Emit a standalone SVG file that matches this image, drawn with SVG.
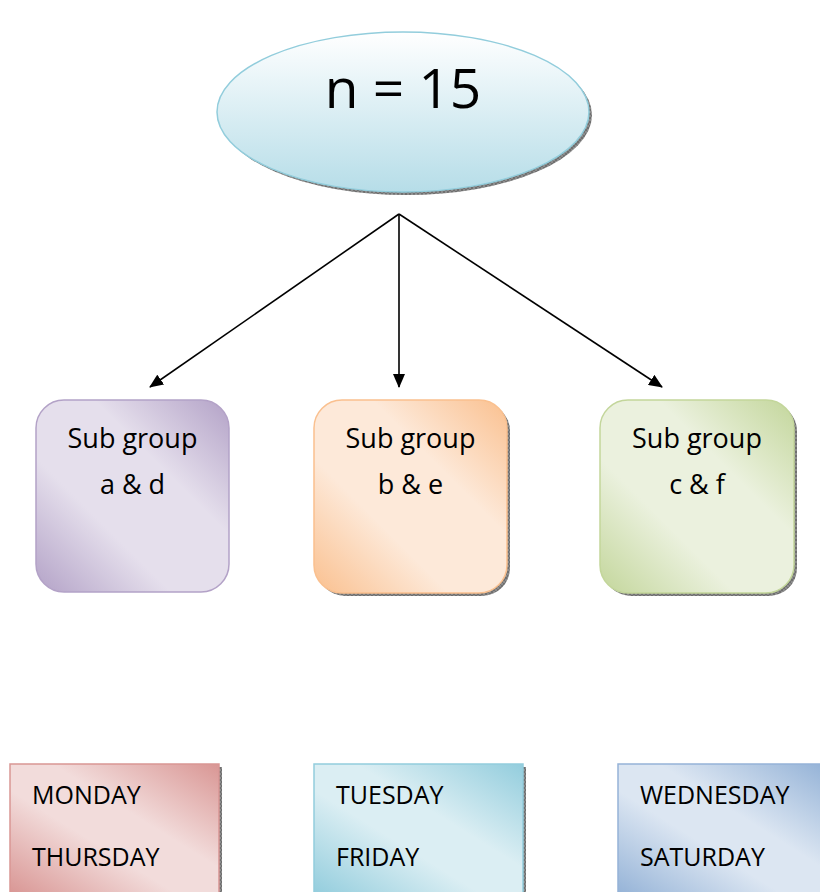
<svg xmlns="http://www.w3.org/2000/svg" width="820" height="892" viewBox="0 0 820 892">
<style>
  .t { font-family: "Open Sans", "Liberation Sans", sans-serif; fill: #000; }
  .sub { font-size: 27px; text-anchor: middle; }
  .day { font-size: 25px; }
  .conn { stroke: #000; stroke-width: 1.6; fill: none; marker-end: url(#arr); }
  .shadow { fill: url(#hatch); }
</style>
<defs>
  <marker id="arr" viewBox="0 0 14 12" refX="13" refY="6" markerWidth="14" markerHeight="12" markerUnits="userSpaceOnUse" orient="auto">
    <path d="M0,0 L14,6 L0,12 Z" fill="#000"/>
  </marker>
  <pattern id="hatch" width="4" height="4" patternUnits="userSpaceOnUse">
    <rect width="4" height="4" fill="#8c8c8c"/>
    <path d="M0,0 L4,4 M4,0 L0,4" stroke="#5a5a5a" stroke-width="0.6"/>
  </pattern>
  <linearGradient id="gEll" x1="0" y1="0" x2="0" y2="1">
    <stop offset="0" stop-color="#ffffff"/>
    <stop offset="1" stop-color="#b6dde8"/>
  </linearGradient>
  <linearGradient id="gPur" x1="0" y1="1" x2="1" y2="0">
    <stop offset="0" stop-color="#b3a2c7"/>
    <stop offset="0.35" stop-color="#e5dfec"/>
    <stop offset="0.65" stop-color="#e5dfec"/>
    <stop offset="1" stop-color="#b3a2c7"/>
  </linearGradient>
  <linearGradient id="gOra" x1="0" y1="1" x2="1" y2="0">
    <stop offset="0" stop-color="#fac08f"/>
    <stop offset="0.35" stop-color="#fde9d9"/>
    <stop offset="0.65" stop-color="#fde9d9"/>
    <stop offset="1" stop-color="#fac08f"/>
  </linearGradient>
  <linearGradient id="gGrn" x1="0" y1="1" x2="1" y2="0">
    <stop offset="0" stop-color="#c3d69b"/>
    <stop offset="0.35" stop-color="#ebf1de"/>
    <stop offset="0.65" stop-color="#ebf1de"/>
    <stop offset="1" stop-color="#c3d69b"/>
  </linearGradient>
  <linearGradient id="gPink" x1="0" y1="1" x2="1" y2="0">
    <stop offset="0" stop-color="#d99694"/>
    <stop offset="0.4" stop-color="#f2dcdb"/>
    <stop offset="0.6" stop-color="#f2dcdb"/>
    <stop offset="1" stop-color="#d99694"/>
  </linearGradient>
  <linearGradient id="gCyan" x1="0" y1="1" x2="1" y2="0">
    <stop offset="0" stop-color="#93cddd"/>
    <stop offset="0.4" stop-color="#dbeef3"/>
    <stop offset="0.6" stop-color="#dbeef3"/>
    <stop offset="1" stop-color="#93cddd"/>
  </linearGradient>
  <linearGradient id="gBlue" x1="0" y1="1" x2="1" y2="0">
    <stop offset="0" stop-color="#95b3d7"/>
    <stop offset="0.4" stop-color="#dce6f2"/>
    <stop offset="0.6" stop-color="#dce6f2"/>
    <stop offset="1" stop-color="#95b3d7"/>
  </linearGradient>
</defs>

<g id="root">
  <ellipse class="shadow" cx="406" cy="115" rx="186" ry="80"/>
  <ellipse cx="403" cy="112" rx="186" ry="80" fill="url(#gEll)" stroke="#92cddc" stroke-width="1.5"/>
  <text class="t" x="403" y="108" font-size="55" text-anchor="middle">n = 15</text>
</g>

<g id="connectors">
  <line class="conn" x1="399" y1="214" x2="150" y2="387"/>
  <line class="conn" x1="399" y1="214" x2="399" y2="387"/>
  <line class="conn" x1="399" y1="214" x2="662" y2="387"/>
</g>

<g id="subA">
  <rect x="36" y="400" width="193" height="192" rx="28" fill="url(#gPur)" stroke="#b3a2c7" stroke-width="1.5"/>
  <text class="t sub" x="132.5" y="448">Sub group</text>
  <text class="t sub" x="132.5" y="494">a &amp; d</text>
</g>

<g id="subB">
  <rect class="shadow" x="317" y="403" width="193" height="193" rx="28"/>
  <rect x="314" y="400" width="193" height="193" rx="28" fill="url(#gOra)" stroke="#fac08f" stroke-width="1.5"/>
  <text class="t sub" x="410.5" y="448">Sub group</text>
  <text class="t sub" x="410.5" y="494">b &amp; e</text>
</g>

<g id="subC">
  <rect class="shadow" x="603" y="403" width="194" height="193" rx="28"/>
  <rect x="600" y="400" width="194" height="193" rx="28" fill="url(#gGrn)" stroke="#c3d69b" stroke-width="1.5"/>
  <text class="t sub" x="697" y="448">Sub group</text>
  <text class="t sub" x="697" y="494">c &amp; f</text>
</g>

<g id="dayA">
  <rect class="shadow" x="13" y="767" width="209" height="130"/>
  <rect x="10" y="764" width="209" height="130" fill="url(#gPink)" stroke="#d99694" stroke-width="1.5"/>
  <text class="t day" x="32" y="804">MONDAY</text>
  <text class="t day" x="32" y="866">THURSDAY</text>
</g>

<g id="dayB">
  <rect class="shadow" x="317" y="767" width="209" height="130"/>
  <rect x="314" y="764" width="209" height="130" fill="url(#gCyan)" stroke="#93cddd" stroke-width="1.5"/>
  <text class="t day" x="336" y="804">TUESDAY</text>
  <text class="t day" x="336" y="866">FRIDAY</text>
</g>

<g id="dayC">
  <rect x="618" y="764" width="205" height="130" fill="url(#gBlue)" stroke="#95b3d7" stroke-width="1.5"/>
  <text class="t day" x="640" y="804">WEDNESDAY</text>
  <text class="t day" x="640" y="866">SATURDAY</text>
</g>
</svg>
